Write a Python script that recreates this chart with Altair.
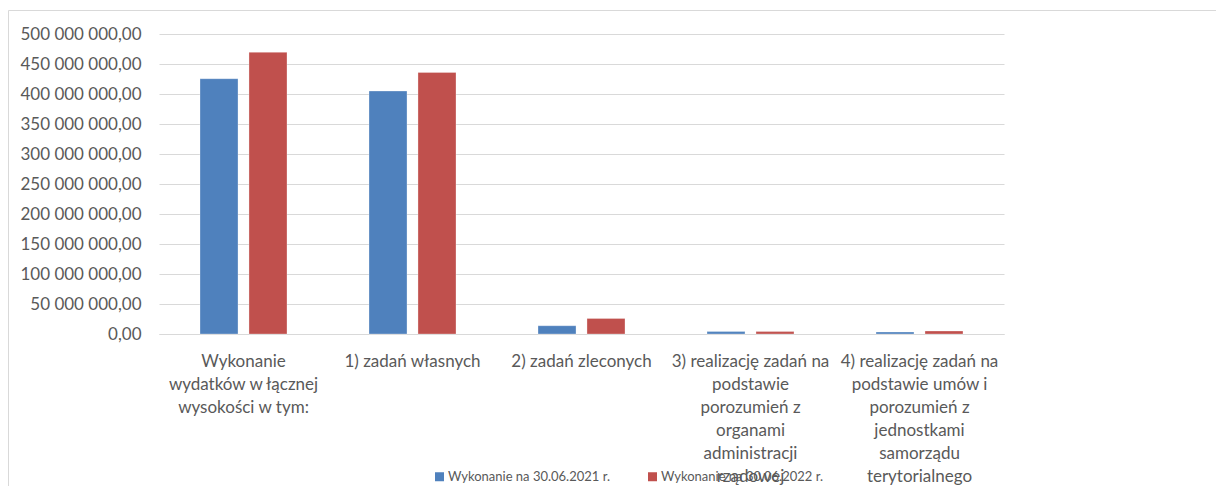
import altair as alt
import pandas as pd

categories = [
    "Wykonanie\nwydatków w łącznej\nwysokości w tym:",
    "1) zadań własnych",
    "2) zadań zleconych",
    "3) realizację zadań na\npodstawie\nporozumień z\norganami\nadministracji\nrządowej",
    "4) realizację zadań na\npodstawie umów i\nporozumień z\njednostkami\nsamorządu\nterytorialnego",
]
series = ["Wykonanie na 30.06.2021 r.", "Wykonanie na 30.06.2022 r."]
values_2021 = [425500000, 405000000, 13800000, 4000000, 3300000]
values_2022 = [469500000, 436000000, 26000000, 4000000, 5000000]
y_ticks = [0, 50e6, 100e6, 150e6, 200e6, 250e6, 300e6, 350e6, 400e6, 450e6, 500e6]
colors = ["#4F81BD", "#C0504D"]

rows = []
for i, c in enumerate(categories):
    rows.append({"cat": c, "series": series[0], "value": values_2021[i], "order": i})
    rows.append({"cat": c, "series": series[1], "value": values_2022[i], "order": i})
df = pd.DataFrame(rows)

FONT = "Lato"
TXT = "#595959"
GRID = "#d9d9d9"

bars = alt.Chart(df).mark_bar(stroke="white", strokeWidth=0.5, strokeOpacity=0.6).encode(
    x=alt.X(
        "cat:N",
        sort=categories,
        scale=alt.Scale(paddingInner=0, paddingOuter=0),
        axis=alt.Axis(
            title=None,
            labelAngle=0,
            labelExpr="split(datum.label, '\\n')",
            labelLineHeight=23,
            labelFontSize=17,
            labelFont=FONT,
            labelColor=TXT,
            labelPadding=19,
            labelOverlap=False,
            labelBound=False,
            labelLimit=400,
            ticks=False,
            domain=True,
            domainColor=GRID,
            domainWidth=1,
            labelBaseline="top",
            grid=False,
        ),
    ),
    xOffset=alt.XOffset("series:N", sort=series,
                        scale=alt.Scale(paddingInner=0.224, paddingOuter=0.837)),
    y=alt.Y(
        "value:Q",
        scale=alt.Scale(domain=[0, 500e6], nice=False),
        axis=alt.Axis(
            title=None,
            values=y_ticks,
            labelExpr="replace(replace(format(datum.value, ',.2f'), regexp(',', 'g'), ' '), '.', ',')",
            labelFontSize=17,
            labelFont=FONT,
            labelColor=TXT,
            labelPadding=18,
            ticks=False,
            domain=False,
            grid=True,
            gridColor=GRID,
            gridWidth=1,
        ),
    ),
    color=alt.Color(
        "series:N",
        sort=series,
        scale=alt.Scale(domain=series, range=colors),
        legend=alt.Legend(
            title=None,
            orient="none",
            legendX=274,
            legendY=436,
            direction="horizontal",
            symbolType="square",
            symbolSize=81,
            symbolStrokeWidth=0,
            labelFont=FONT,
            labelFontSize=13,
            labelColor=TXT,
            labelOffset=2,
            columnPadding=36,
            labelLimit=300,
        ),
    ),
)

border = alt.Chart(pd.DataFrame({"a": [0]})).mark_rect(
    fillOpacity=0, stroke=GRID, strokeWidth=1, clip=False
).encode(
    x=alt.value(-150.5), x2=alt.value(1100), y=alt.value(-23.5), y2=alt.value(600)
)

chart = alt.layer(border, bars).properties(
    width=845,
    height=300,
    autosize=alt.AutoSizeParams(type="none"),
    padding={"left": 151, "top": 26, "right": 212, "bottom": 152},
).configure(font=FONT).configure_view(strokeWidth=0, strokeOpacity=0)

chart.save("out.html", embed_options={"renderer": "svg", "actions": False})
